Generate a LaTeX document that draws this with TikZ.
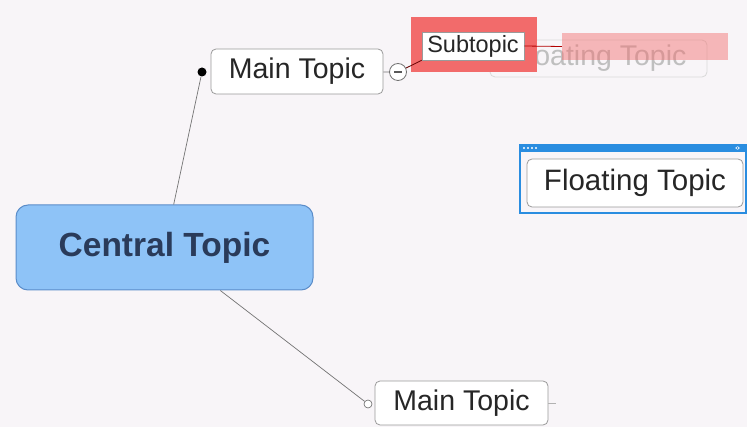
\documentclass[tikz,border=0pt]{standalone}
\usepackage{fontspec}
\setmainfont{Liberation Sans}
\usepackage{xcolor}
\usetikzlibrary{positioning,calc}

\definecolor{bgcol}{HTML}{F8F5F8}
\definecolor{centfill}{HTML}{8EC3F7}
\definecolor{centline}{HTML}{5B8DC9}
\definecolor{centtext}{HTML}{2A3B5A}
\definecolor{selred}{HTML}{F26B6B}
\definecolor{selblue}{HTML}{2A8DE0}
\definecolor{boxline}{HTML}{9A9A9A}

\begin{document}
\begin{tikzpicture}[x=1pt, y=-1pt,
  central/.style={draw=centline, line width=1pt, rectangle, rounded corners=12pt,
    fill=centfill, minimum width=297pt, minimum height=85pt, inner sep=0pt,
    text=centtext, font=\fontsize{33.5}{36}\selectfont\bfseries},
  topic/.style={draw=boxline, line width=0.8pt, rectangle, rounded corners=5pt,
    fill=white, minimum width=172pt, minimum height=45pt, inner sep=0pt,
    text=black!85, font=\fontsize{28.5}{32}\selectfont},
  subbox/.style={draw=boxline, line width=0.6pt, rectangle, fill=white,
    minimum width=102pt, minimum height=28pt, inner sep=0pt,
    text=black!85, font=\fontsize{23.5}{26}\selectfont},
  link/.style={draw=black!55, line width=0.7pt}
]
  \fill[bgcol] (0,0) rectangle (747,427);
  \useasboundingbox (0,0) rectangle (747,427);

  % ghost of the floating topic being dragged
  \node[topic, draw=black!15, fill=bgcol, text=black!25, minimum width=217pt,
    minimum height=37pt] (ghost) at (598.5,58.5) {Floating Topic};
  \node[rectangle, fill=selred, opacity=0.45, minimum width=166pt,
    minimum height=27pt, inner sep=0pt] (ghostbar) at (645,46.5) {};

  \node[central] (cent) at (164.5,247.5) {Central Topic};
  \node[topic] (main1) at (297,71.5) {Main Topic};
  \node[topic, minimum width=173pt, minimum height=44pt] (main2) at (461.5,403) {Main Topic};

  \node[circle, fill=black, inner sep=0pt, minimum size=9pt] (dot1) at (202,72) {};
  \node[circle, draw=black!60, fill=white, line width=0.6pt, inner sep=0pt,
    minimum size=8pt] (dot2) at (368,404) {};
  \node[circle, draw=black!55, fill=white, line width=0.8pt, inner sep=0pt,
    minimum size=17pt] (fold) at (398,72) {};
  \draw[black!65, line width=1.2pt] ([xshift=-4pt]fold.center) -- ([xshift=4pt]fold.center);

  % selected subtopic
  \node[rectangle, fill=selred, minimum width=126pt, minimum height=55pt,
    inner sep=0pt] (subsel) at (474,44.5) {};
  \node[subbox] (sub) at (473,46) {Subtopic};

  % selected floating topic
  \node[rectangle, draw=selblue, line width=2pt, minimum width=226pt,
    minimum height=68pt, inner sep=0pt] (floatsel) at (633,179) {};
  \fill[selblue] (floatsel.north west) rectangle ([yshift=-8pt]floatsel.north east);
  \foreach \i in {0,...,3}
    \fill[white] ($(floatsel.north west)+(5+4*\i,4)$) circle (1.1pt);
  \fill[white!80!selblue] ([xshift=-12pt,yshift=-4pt]floatsel.north east) -- ++(3,-2) -- ++(0,4) -- cycle
    ([xshift=-7pt,yshift=-4pt]floatsel.north east) -- ++(-3,-2) -- ++(0,4) -- cycle;
  \node[topic, minimum width=216pt, minimum height=48pt, font=\fontsize{29.5}{32}\selectfont]
    (float) at (635,183) {Floating Topic};

  \draw[link] (dot1) -- (cent);
  \draw[link] (dot2) -- (cent);
  \draw[link] (main1) -- (fold);
  \draw[draw=black!60!red, line width=0.8pt] (fold) -- (sub.south west);
  \draw[draw=red!70!black, line width=0.8pt] (sub.east) -- (ghostbar.west);
  \draw[draw=black!30, line width=0.7pt] (main2.east) -- ++(8,0);
\end{tikzpicture}
\end{document}
